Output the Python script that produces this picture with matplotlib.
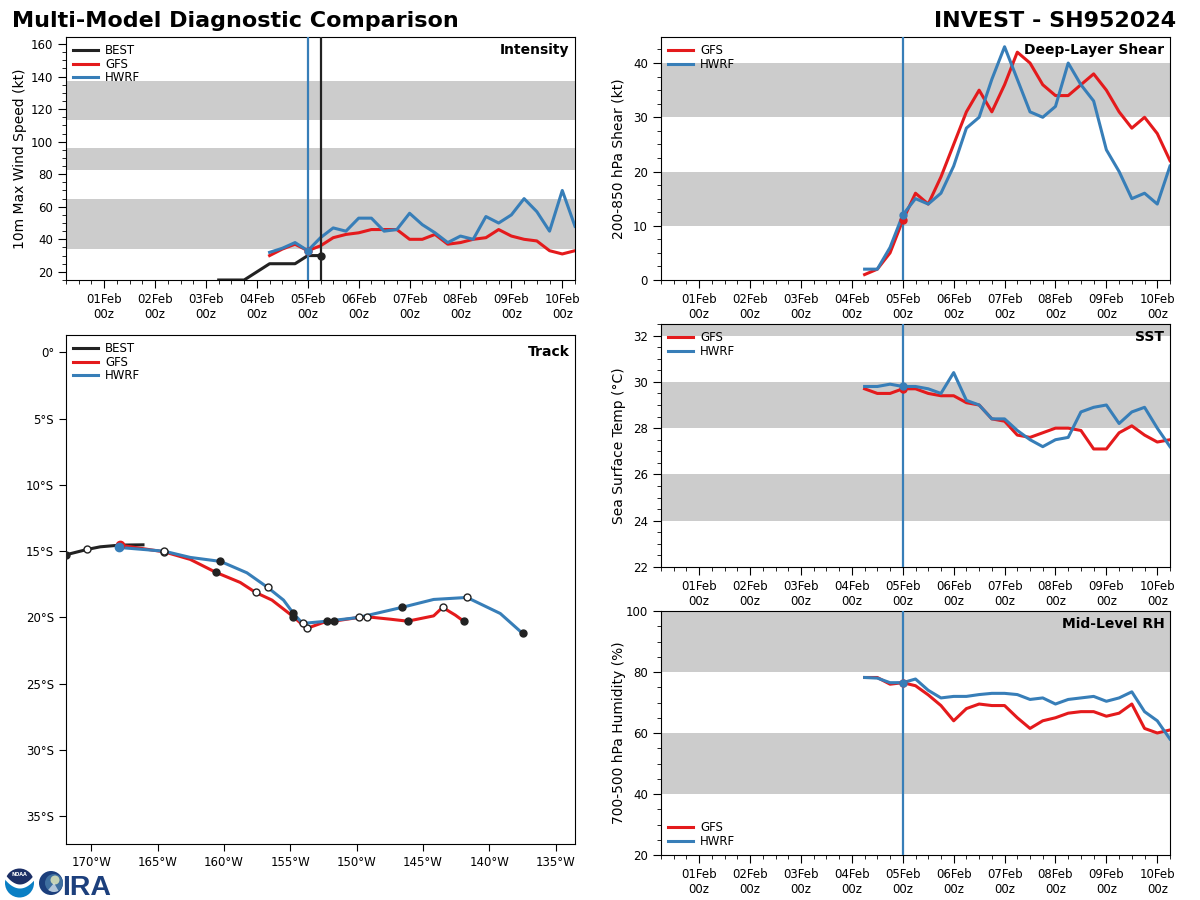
import numpy as np
import matplotlib
matplotlib.use("Agg")
import matplotlib.pyplot as plt
from matplotlib.patches import Circle, Wedge
from matplotlib.ticker import MultipleLocator

RED = "#e41a1c"
BLUE = "#377eb8"
BLACK = "#222222"
GREY = "#cccccc"

# days since 01Feb 00z, 6-hourly
model_days = [3.25 + 0.25 * i for i in range(25)]
best_days = [2.25, 2.5, 2.75, 3.0, 3.25, 3.5, 3.75, 4.0, 4.25]
tick_days = list(range(10))
tick_labels = ["01Feb\n00z", "02Feb\n00z", "03Feb\n00z", "04Feb\n00z", "05Feb\n00z",
               "06Feb\n00z", "07Feb\n00z", "08Feb\n00z", "09Feb\n00z", "10Feb\n00z"]

best_vmax = [15, 15, 15, 20, 25, 25, 25, 30, 30]
gfs_vmax = [30, 34, 37, 33, 36, 41, 43, 44, 46, 46, 46, 40, 40, 43, 37, 38, 40, 41, 46, 42, 40, 39, 33, 31, 33]
hwrf_vmax = [32, 34.5, 38, 33, 41, 47, 45, 53, 53, 45, 46, 56, 49, 44, 38, 42, 40, 54, 50, 55, 65, 57, 45, 70, 48]

gfs_shear = [1, 2, 5, 11, 16, 14, 19, 25, 31, 35, 31, 36, 42, 40, 36, 34, 34, 36, 38, 35, 31, 28, 30, 27, 22]
hwrf_shear = [2, 2, 6, 12, 15, 14, 16, 21, 28, 30, 37, 43, 37, 31, 30, 32, 40, 36, 33, 24, 20, 15, 16, 14, 21]

gfs_sst = [29.7, 29.5, 29.5, 29.7, 29.7, 29.5, 29.4, 29.4, 29.1, 29.0, 28.4, 28.3, 27.7,
           27.6, 27.8, 28.0, 28.0, 27.9, 27.1, 27.1, 27.8, 28.1, 27.7, 27.4, 27.5]
hwrf_sst = [29.8, 29.8, 29.9, 29.8, 29.8, 29.7, 29.5, 30.4, 29.2, 29.0, 28.4, 28.4, 27.9,
            27.5, 27.2, 27.5, 27.6, 28.7, 28.9, 29.0, 28.2, 28.7, 28.9, 28.0, 27.2]

gfs_rh = [78.2, 78.2, 76, 76.5, 75.5, 72.5, 69, 64, 68, 69.5, 69, 69, 65, 61.5, 64, 65,
          66.5, 67, 67, 65.5, 66.5, 69.5, 61.5, 60, 61]
hwrf_rh = [78.2, 78, 76.5, 76.5, 77.7, 74, 71.5, 72, 72, 72.6, 73, 73, 72.6, 71, 71.5,
           69.5, 71, 71.5, 72, 70.4, 71.5, 73.5, 67, 64, 58]

# track, lon/lat
best_lon = [-171.9, -170.32, -169.32, -167.81, -166.1]
best_lat = [-15.28, -14.88, -14.68, -14.55, -14.53]
gfs_lon = [-167.81, -164.5, -162.54, -160.6, -158.77, -157.62, -156.38, -154.76, -153.77,
           -152.24, -151.74, -149.86, -149.22, -147.47, -146.16, -144.2, -143.53, -142.57, -141.94]
gfs_lat = [-14.56, -15.06, -15.63, -16.61, -17.37, -18.12, -18.70, -19.96, -20.84,
           -20.29, -20.29, -20.01, -19.96, -20.14, -20.29, -19.89, -19.25, -19.83, -20.29]
hwrf_lon = [-167.87, -164.5, -162.54, -160.26, -158.27, -156.71, -155.51, -154.76, -154.08,
            -152.24, -149.86, -146.59, -144.2, -141.69, -139.18, -137.5]
hwrf_lat = [-14.73, -15.01, -15.48, -15.78, -16.64, -17.74, -18.70, -19.71, -20.46,
            -20.29, -20.01, -19.25, -18.65, -18.50, -19.71, -21.21]
# which track points carry a black or a white dot
best_black, best_white = [0], [1]
gfs_black, gfs_white = [3, 7, 10, 14, 18], [1, 5, 8, 12, 16]
hwrf_black, hwrf_white = [3, 7, 9, 11, 15], [1, 5, 8, 10, 13]

lon_ticks = [-170, -165, -160, -155, -150, -145, -140, -135]
lon_labels = ["170°W", "165°W", "160°W", "155°W", "150°W", "145°W", "140°W", "135°W"]
lat_ticks = [0, -5, -10, -15, -20, -25, -30, -35]
lat_labels = ["0°", "5°S", "10°S", "15°S", "20°S", "25°S", "30°S", "35°S"]

W, H = 1200, 900


def make_axes(fig, x0, y0, x1, y1):
    return fig.add_axes([x0 / W, 1 - y1 / H, (x1 - x0) / W, (y1 - y0) / H])


def bands(ax, spans):
    for lo, hi in spans:
        ax.axhspan(lo, hi, color=GREY, lw=0, zorder=2)


def time_axis(ax, ylabel, ylim, major, minor, label_px=35):
    ax.set_xlim(-0.75, 9.25)
    ax.set_ylim(*ylim)
    ax.set_xticks(tick_days)
    ax.set_xticklabels(tick_labels, fontsize=8.5, linespacing=1.15)
    ax.xaxis.set_minor_locator(MultipleLocator(0.25))
    ax.yaxis.set_major_locator(MultipleLocator(major))
    ax.yaxis.set_minor_locator(MultipleLocator(minor))
    ax.tick_params(axis="x", which="major", length=6, pad=3.5)
    ax.tick_params(axis="y", which="major", length=6, labelsize=8.5)
    ax.tick_params(which="minor", length=3)
    ax.set_ylabel(ylabel, fontsize=10)
    ax.yaxis.set_label_coords(-label_px / 509, 0.5)


def model_lines(ax, gfs, hwrf):
    ax.plot(model_days, gfs, color=RED, lw=2.2, zorder=4, label="GFS")
    ax.plot(model_days, hwrf, color=BLUE, lw=2.2, zorder=5, label="HWRF")
    ax.axvline(4, color=BLUE, lw=1.6, zorder=6)
    ax.plot(4, gfs[3], "o", color=RED, ms=5, zorder=6)
    ax.plot(4, hwrf[3], "o", color=BLUE, ms=5, zorder=7)


def add_legend(ax, loc="upper left", zorder=3):
    leg = ax.legend(loc=loc, frameon=False, fontsize=8.5, handlelength=2.1,
                    labelspacing=0.05, borderaxespad=0.2, handletextpad=0.6)
    leg.set_zorder(zorder)


def panel_label(ax, label, offset=4):
    ax.annotate(label, xy=(1, 1), xycoords="axes fraction", xytext=(-4, -offset),
                textcoords="offset points", ha="right", va="top",
                fontsize=10, fontweight="bold", zorder=10)


fig = plt.figure(figsize=(12, 9), dpi=100)
fig.text(12 / W, 1 - 27 / H, "Multi-Model Diagnostic Comparison", fontsize=16, fontweight="bold", ha="left", va="baseline")
fig.text(1176 / W, 1 - 27 / H, "INVEST - SH952024", fontsize=16, fontweight="bold", ha="right", va="baseline")

# intensity
ax = make_axes(fig, 66, 37, 575, 280)
bands(ax, [(34, 65), (82.5, 96), (113, 137.5)])
ax.plot(best_days, best_vmax, color=BLACK, lw=2.2, zorder=4, label="BEST")
model_lines(ax, gfs_vmax, hwrf_vmax)
ax.axvline(4.25, color=BLACK, lw=1.6, zorder=6)
ax.plot(best_days[-1], best_vmax[-1], "o", color=BLACK, ms=5, zorder=8)
time_axis(ax, "10m Max Wind Speed (kt)", (15, 164.3), 20, 5, label_px=39)
add_legend(ax, zorder=1)  # the band cuts off the last entry here
panel_label(ax, "Intensity")

# shear
ax = make_axes(fig, 661, 37, 1170, 280)
bands(ax, [(10, 20), (30, 40)])
model_lines(ax, gfs_shear, hwrf_shear)
time_axis(ax, "200-850 hPa Shear (kt)", (0, 44.8), 10, 2.5)
add_legend(ax)
panel_label(ax, "Deep-Layer Shear")

# sst
ax = make_axes(fig, 661, 324, 1170, 567)
bands(ax, [(24, 26), (28, 30), (32, 33)])
model_lines(ax, gfs_sst, hwrf_sst)
time_axis(ax, "Sea Surface Temp (°C)", (22, 32.5), 2, 0.5)
add_legend(ax)
panel_label(ax, "SST")

# rh
ax = make_axes(fig, 661, 611, 1170, 855)
bands(ax, [(40, 60), (80, 100)])
model_lines(ax, gfs_rh, hwrf_rh)
time_axis(ax, "700-500 hPa Humidity (%)", (20, 100), 20, 5)
add_legend(ax, "lower left")
panel_label(ax, "Mid-Level RH")

# track
ax = make_axes(fig, 66, 335, 575, 844)
ax.plot(best_lon, best_lat, color=BLACK, lw=2.2, zorder=3, label="BEST")
ax.plot(gfs_lon, gfs_lat, color=RED, lw=2.2, zorder=4, label="GFS")
ax.plot(hwrf_lon, hwrf_lat, color=BLUE, lw=2.2, zorder=5, label="HWRF")
ax.plot(gfs_lon[0], gfs_lat[0], "o", color=RED, ms=6, zorder=6)
ax.plot(hwrf_lon[0], hwrf_lat[0], "o", color=BLUE, ms=6, zorder=6)
for lons, lats, black, white in [(best_lon, best_lat, best_black, best_white),
                                 (gfs_lon, gfs_lat, gfs_black, gfs_white),
                                 (hwrf_lon, hwrf_lat, hwrf_black, hwrf_white)]:
    ax.plot(np.array(lons)[black], np.array(lats)[black], "o", color=BLACK, ms=5, zorder=7)
    ax.plot(np.array(lons)[white], np.array(lats)[white], "o", mfc="white", mec=BLACK, mew=1, ms=5, zorder=8)
ax.set_xlim(-171.9, -133.55)
ax.set_ylim(-37.1, 1.3)
ax.set_xticks(lon_ticks)
ax.set_xticklabels(lon_labels, fontsize=8.5)
ax.set_yticks(lat_ticks)
ax.set_yticklabels(lat_labels, fontsize=8.5)
ax.tick_params(length=5)
add_legend(ax)
panel_label(ax, "Track", offset=7)

# NOAA / CIRA logo, drawn in pixel space
logo = fig.add_axes([0, 0, 1, 1], zorder=20)
logo.set_xlim(0, W)
logo.set_ylim(H, 0)
logo.axis("off")
noaa = Circle((19.5, 883), 14.5, color="white", lw=0)
logo.add_patch(noaa)
xs = np.linspace(4, 35, 40)
navy_edge = 884 - 9 * ((xs - 19.5) / 14) ** 2
blue_edge = 888 - 9 * ((xs - 19.5) / 15) ** 2
top = logo.fill_between(xs, 860, navy_edge, color="#1c2f66", lw=0)
bottom = logo.fill_between(xs, blue_edge, 900, color="#0a7fc4", lw=0)
top.set_clip_path(noaa)
bottom.set_clip_path(noaa)
logo.text(19.5, 875, "NOAA", color="white", fontsize=3.5, ha="center", va="center", fontweight="bold")
logo.add_patch(Circle((51, 883), 12, color="#1c3f7c", lw=0))
logo.add_patch(Circle((54, 883), 9, color="#3f6f9f", lw=0))
logo.add_patch(Circle((55, 880), 4.5, color="#c5d2b5", lw=0))
logo.add_patch(Wedge((54, 883), 9, 60, 130, color="white", lw=0, alpha=0.6))
logo.text(62, 895, "IRA", color="#1c3f7c", fontsize=20.5, fontweight="bold", family="Liberation Sans",
          ha="left", va="baseline")

fig.savefig("out.png", dpi=100)
